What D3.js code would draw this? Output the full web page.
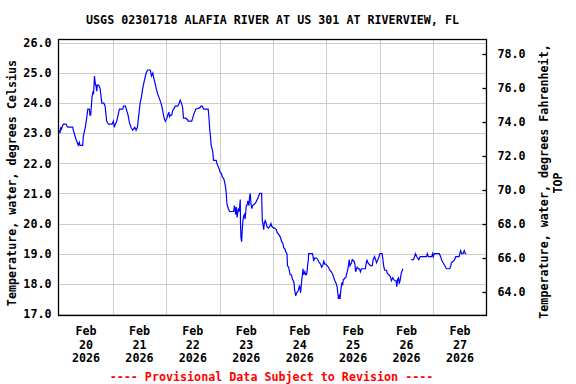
<!DOCTYPE html>
<html><head><meta charset="utf-8">
<script src="https://cdn.jsdelivr.net/npm/d3@7"></script>
<style>
html,body{margin:0;padding:0;background:#fff;}
svg{display:block;}
text{font-family:"DejaVu Sans Mono",monospace;font-weight:bold;font-size:11.7px;fill:#000;}
</style></head>
<body><svg id="chart" width="576" height="384"></svg>
<script>
const title = "USGS 02301718 ALAFIA RIVER AT US 301 AT RIVERVIEW, FL";
const leftLabel = "Temperature, water, degrees Celsius";
const rightLabel1 = "Temperature, water, degrees Fahrenheit,";
const rightLabel2 = "TOP";
const footer = "---- Provisional Data Subject to Revision ----";
const celsiusTicks = [17,18,19,20,21,22,23,24,25,26];
const fahrenheitTicks = [64,66,68,70,72,74,76,78];
const dayLabels = ["20","21","22","23","24","25","26","27"];
const monthLabel = "Feb";
const yearLabel = "2026";
// hours since 2026-02-20 00:00, water temperature (deg C); null = gap
const hours = [0,0.3,0.6,0.9,1.2,1.8,3.0,3.8,6.0,6.3,7.1,7.5,8.0,8.5,9.0,9.3,10.5,10.8,11.7,12.3,12.8,13.5,13.8,14.1,14.4,14.7,15.2,15.4,15.6,15.8,16.1,16.3,16.5,16.8,17.1,17.4,17.7,18.3,18.8,19.1,20.0,20.6,21.0,21.3,22.1,23.7,24.3,24.7,25.2,25.8,26.4,27.0,28.5,28.9,29.7,30.3,30.9,31.5,32.2,33.0,33.9,34.5,35.1,35.7,36.3,36.9,37.5,38.2,39.0,39.7,40.9,41.4,42.0,42.4,42.9,43.5,44.2,45.0,45.7,46.2,46.8,47.3,47.7,
48.3,48.7,49.2,49.5,49.9,50.5,50.9,51.4,52.0,53.2,53.9,54.3,54.9,55.4,55.8,56.8,57.6,57.9,59.5,59.9,60.5,61.3,63.2,63.6,64.2,64.9,66.9,67.3,67.6,67.9,68.2,68.6,68.9,
69.3,70.5,70.8,71.3,71.9,72.3,72.9,73.2,73.8,74.2,74.7,75.0,75.3,75.9,76.5,78.3,78.7,79.2,79.5,79.9,80.4,80.8,81.3,81.4,81.6,81.9,82.2,82.5,82.8,83.2,83.5,84.0,84.3,84.7,85.2,85.5,85.8,86.1,86.5,86.8,87.7,88.3,88.9,89.5,90.0,90.9,91.2,91.5,91.8,92.1,92.5,93.0,93.3,94.0,94.5,95.1,95.5,
96.3,96.7,97.5,97.9,98.5,98.9,99.3,99.9,100.4,100.8,101.4,101.8,102.3,102.5,103.0,103.3,103.7,104.3,104.7,105.2,105.5,105.7,106.2,106.6,107.2,107.6,107.9,108.4,108.7,108.9,109.2,109.5,109.8,110.3,110.7,111.0,111.3,111.6,111.9,112.0,113.7,114.0,114.3,114.6,115.6,116.1,116.8,117.4,117.8,118.3,118.5,118.8,119.3,119.7,120.3,120.9,121.5,122.2,122.9,123.3,123.8,124.4,124.8,125.1,125.4,125.8,126.1,126.5,127.0,127.3,127.6,128.0,128.3,128.7,129.0,129.5,129.9,130.2,130.6,130.9,131.3,131.6,132.4,132.8,133.1,133.8,134.3,134.8,135.3,135.7,137.5,137.7,138.2,138.6,139.2,
139.9,140.6,141.0,141.6,142.1,142.5,143.1,143.6,144.0,145.0,145.3,145.8,146.2,147.0,147.3,148.0,148.7,149.2,149.8,150.2,150.7,151.3,151.6,152.0,152.4,152.7,153.2,153.6,154.1,154.4,156.0,
158.1,159.1,159.6,160.0,160.6,161.0,161.5,162.1,164.3,165.0,165.3,165.8,167.3,167.7,168.0,168.4,170.7,171.3,171.7,172.4,173.2,173.9,175.4,175.9,176.1,176.9,177.6,178.1,179.6,179.9,180.3,180.7,181.3,181.9,182.4,182.8];
const tempC = [23.1,23.0,23.2,23.1,23.2,23.3,23.3,23.2,23.2,23.1,22.9,22.8,22.7,22.6,22.7,22.6,22.6,22.9,23.2,23.5,23.8,23.8,23.6,23.6,23.9,24.2,24.4,24.3,24.6,24.9,24.7,24.6,24.6,24.4,24.6,24.6,24.6,24.5,24.2,24.0,24.0,23.9,23.6,23.4,23.3,23.3,23.4,23.2,23.3,23.4,23.6,23.8,23.8,23.9,23.9,23.75,23.6,23.35,23.2,23.1,23.2,23.1,23.2,23.6,24.0,24.2,24.5,24.75,25.0,25.1,25.1,24.9,25.0,24.85,24.7,24.5,24.3,24.15,24.0,23.85,23.6,23.45,23.4,
23.5,23.6,23.7,23.55,23.6,23.6,23.75,23.8,23.9,23.9,24.0,24.1,24.0,23.85,23.5,23.5,23.45,23.4,23.4,23.5,23.65,23.8,23.85,23.9,23.9,23.8,23.8,23.45,23.1,22.9,22.6,22.5,22.4,
22.1,22.1,22.0,21.9,21.8,21.7,21.65,21.55,21.5,21.4,21.2,21.0,20.65,20.5,20.4,20.4,20.6,20.3,20.55,20.2,20.5,20.4,20.8,20.0,19.55,19.4,19.8,20.1,20.25,20.3,20.15,20.6,20.6,20.75,20.6,20.9,21.0,20.65,20.5,20.6,20.65,20.7,20.8,20.9,21.0,21.0,20.1,20.0,19.8,20.0,20.1,20.0,19.9,19.85,19.9,20.0,19.9,
19.85,19.85,19.8,19.7,19.65,19.6,19.55,19.4,19.35,19.2,19.15,19.05,19.0,18.6,18.55,18.45,18.3,18.3,18.15,18.1,18.0,17.8,17.6,17.7,17.75,17.85,17.95,17.7,17.95,18.1,18.3,18.5,18.3,18.4,18.3,18.3,18.4,18.65,18.8,19.0,19.0,18.9,18.75,18.85,18.85,18.8,18.7,18.65,18.55,18.6,18.65,18.75,18.65,18.65,18.6,18.55,18.45,18.4,18.3,18.2,18.1,18.0,17.9,17.7,17.5,17.6,17.5,17.8,18.05,17.95,18.15,18.15,18.2,18.2,18.3,18.45,18.6,18.8,18.6,18.65,18.7,18.8,18.75,18.65,18.4,18.55,18.5,18.5,18.4,18.5,18.5,18.6,18.8,18.7,18.65,
18.6,18.6,18.8,18.9,18.8,18.7,18.8,18.9,19.0,19.0,18.85,18.55,18.45,18.45,18.35,18.3,18.25,18.1,18.2,18.15,18.1,18.1,17.9,18.15,18.2,18.0,18.15,18.35,18.45,18.5,null,
18.8,18.8,18.9,19.0,18.9,18.85,18.8,18.9,18.9,18.9,19.0,18.9,18.9,19.0,18.9,19.0,19.0,18.9,18.8,18.7,18.6,18.5,18.5,18.6,18.7,18.75,18.8,18.9,18.9,19.0,19.1,19.0,19.0,19.1,19.0,19.0];

const start = new Date(2026,1,20,0,0);
const end = new Date(2026,1,28,0,0);
const data = hours.map((h,i)=>({t:new Date(start.getTime()+h*3600e3), v:tempC[i]}));

const svg = d3.select("#chart");
const L=58.5, R=486.5, T=39.5, B=315.5;
const x = d3.scaleTime().domain([start,end]).range([59.3,486.7]);
const y = d3.scaleLinear().domain([16.93,26.13]).range([316,39]);
const yF = d3.scaleLinear().domain([64,78]).range([292,54]);

// gridlines
const grid = svg.append("g").attr("stroke","#cccccc").attr("stroke-width",1);
grid.selectAll("line.h").data(celsiusTicks).join("line")
  .attr("x1",L).attr("x2",R).attr("y1",d=>Math.round(y(d))+0.5).attr("y2",d=>Math.round(y(d))+0.5);
const days = d3.timeDay.range(d3.timeDay.offset(start,1), end);
grid.selectAll("line.v").data(days).join("line")
  .attr("y1",T).attr("y2",B).attr("x1",d=>Math.round(x(d))+0.5).attr("x2",d=>Math.round(x(d))+0.5);

// data line
const line = d3.line().defined(d=>d.v!==null).x(d=>x(d.t)).y(d=>y(d.v));
svg.append("path").datum(data).attr("d",line).attr("fill","none").attr("stroke","#0000ff").attr("stroke-width",1.2);

// frame
svg.append("rect").attr("x",L).attr("y",T).attr("width",R-L).attr("height",B-T)
  .attr("fill","none").attr("stroke","#000").attr("stroke-width",1.3);

// left axis
const yAxis = d3.axisLeft(y).tickValues(celsiusTicks).tickSize(0).tickPadding(7).tickFormat(d3.format(".1f"));
const gl = svg.append("g").attr("transform",`translate(${L},0)`).call(yAxis);
gl.select(".domain").remove();
gl.selectAll("text").attr("font-size",null).attr("font-family",null);

// right axis
const yAxisR = d3.axisRight(yF).tickValues(fahrenheitTicks).tickSize(-4).tickPadding(11).tickFormat(d3.format(".1f"));
const gr = svg.append("g").attr("transform",`translate(${R},0)`).call(yAxisR);
gr.select(".domain").remove();
gr.selectAll("line").attr("stroke","#000").attr("stroke-width",1.3);
gr.selectAll("text").attr("font-size",null).attr("font-family",null);

// bottom labels
const noons = days.map(d=>d3.timeHour.offset(d,-12)).concat([d3.timeHour.offset(end,-12)]);
const bl = svg.append("g");
noons.forEach((d,i)=>{
  const t = bl.append("text").attr("text-anchor","middle").attr("x",x(d));
  t.append("tspan").attr("x",x(d)).attr("y",335).text(monthLabel);
  t.append("tspan").attr("x",x(d)).attr("y",348.5).text(dayLabels[i]);
  t.append("tspan").attr("x",x(d)).attr("y",362).text(yearLabel);
});

// titles
const cx = (L+R)/2;
svg.append("text").attr("x",cx).attr("y",24).attr("text-anchor","middle").text(title);
svg.append("text").attr("transform","translate(15.5,183) rotate(-90)").attr("text-anchor","middle").text(leftLabel);
svg.append("text").attr("transform","translate(547.5,181.5) rotate(-90)").attr("text-anchor","middle").text(rightLabel1);
svg.append("text").attr("transform","translate(562,183) rotate(-90)").attr("text-anchor","middle").text(rightLabel2);
svg.append("text").attr("x",cx-1).attr("y",380.5).attr("text-anchor","middle").style("fill","#ff0000").text(footer);
</script></body></html>
